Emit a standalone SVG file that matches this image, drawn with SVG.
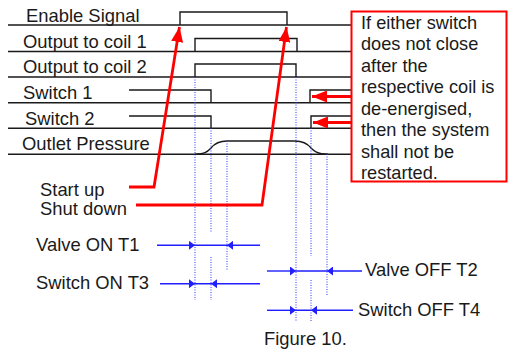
<svg xmlns="http://www.w3.org/2000/svg" width="508" height="354" viewBox="0 0 508 354">
<defs>
<style>
text{font-family:"Liberation Sans",Arial,sans-serif;fill:#1a1a1a}
.lbl{font-size:18.4px}
.box{font-size:18.2px}
.sig{fill:none;stroke:#1a1a1a;stroke-width:1.4}
.dot{fill:none;stroke:#3333ff;stroke-width:1;stroke-dasharray:1 1.5}
.dim{fill:none;stroke:#1f1fff;stroke-width:1.4}
.red{fill:none;stroke:#ff0000;stroke-width:2.8}
</style>
<marker id="ra" markerUnits="userSpaceOnUse" markerWidth="16" markerHeight="12" refX="15" refY="6" orient="auto"><path d="M0,0 L15,6 L0,12 Z" fill="#ff0000"/></marker>
<marker id="ba" markerUnits="userSpaceOnUse" markerWidth="7" markerHeight="9" refX="6" refY="4.5" orient="auto"><path d="M0,0 L6,4.5 L0,9 Z" fill="#1f1fff"/></marker>
</defs>
<g id="axes">
<path class="sig" d="M8,25 H351 M8,51.5 H351 M8,77 H351 M8,102.7 H351 M8,128.3 H351 M8,154.3 H351"/>
</g>
<g id="enable-signal">
<text class="lbl" x="26" y="21.5">Enable Signal</text>
<path class="sig" d="M180,25 V12 H287 V25"/>
</g>
<g id="coil1">
<text class="lbl" x="23" y="48">Output to coil 1</text>
<path class="sig" d="M195,51.5 V38.5 H297 V51.5"/>
</g>
<g id="coil2">
<text class="lbl" x="23" y="73">Output to coil 2</text>
<path class="sig" d="M195,77 V64 H296 V77"/>
</g>
<g id="switch1">
<text class="lbl" x="23" y="99">Switch 1</text>
<path class="sig" d="M129,90 H211 V102.7 M310,102.7 V90 H351"/>
</g>
<g id="switch2">
<text class="lbl" x="25" y="125">Switch 2</text>
<path class="sig" d="M129,116 H211 V128.3 M311,128.3 V116 H351"/>
</g>
<g id="outlet-pressure">
<text class="lbl" x="22" y="150">Outlet Pressure</text>
<path class="sig" d="M195,154.3 C206,154 208,151 211,148 C215,143 220,141 227,141 H295 C302,141 307,143 311,148 C314,151 317,154 328,154.3"/>
</g>
<g id="note">
<rect x="351.5" y="11.5" width="155" height="170" fill="#fff" stroke="#ff0000" stroke-width="2"/>
<text class="box" x="361"><tspan x="361" y="28.5">If either switch</tspan><tspan x="361" y="50">does not close</tspan><tspan x="361" y="71.5">after the</tspan><tspan x="361" y="93">respective coil is</tspan><tspan x="361" y="114.5">de-energised,</tspan><tspan x="361" y="136">then the system</tspan><tspan x="361" y="157.5">shall not be</tspan><tspan x="361" y="179">restarted.</tspan></text>
</g>
<g id="labels">
<text class="lbl" x="40" y="196">Start up</text>
<text class="lbl" x="40" y="215">Shut down</text>
<text class="lbl" x="36" y="251">Valve ON T1</text>
<text class="lbl" x="36" y="289">Switch ON T3</text>
<text class="lbl" x="365" y="276">Valve OFF T2</text>
<text class="lbl" x="358" y="316">Switch OFF T4</text>
<text class="lbl" x="264" y="345">Figure 10.</text>
</g>
<g id="connectors">
<path class="dot" d="M195,77 V300 M211,128 V232 M211,257 V300 M227,141 V270 M296,77 V322 M311,128 V256 M311,280 V322 M327,154 V295"/>
<path class="red" d="M129,187 H154 L179.5,27" marker-end="url(#ra)"/>
<path class="red" d="M136,205 H262 L286.5,27" marker-end="url(#ra)"/>
<path class="red" d="M351,96.5 H312" marker-end="url(#ra)"/>
<path class="red" d="M351,122.5 H313" marker-end="url(#ra)"/>
<path class="dim" d="M157,245.3 H195" marker-end="url(#ba)"/>
<path class="dim" d="M195,245.3 H227 M260,245.3 H227" marker-end="url(#ba)"/>
<path class="dim" d="M160,283.7 H195" marker-end="url(#ba)"/>
<path class="dim" d="M195,283.7 H211 M260,283.7 H211" marker-end="url(#ba)"/>
<path class="dim" d="M267,271 H296" marker-end="url(#ba)"/>
<path class="dim" d="M296,271 H327 M362,271 H327" marker-end="url(#ba)"/>
<path class="dim" d="M267,310.3 H296" marker-end="url(#ba)"/>
<path class="dim" d="M296,310.3 H311 M353,310.3 H311" marker-end="url(#ba)"/>
</g>
</svg>
